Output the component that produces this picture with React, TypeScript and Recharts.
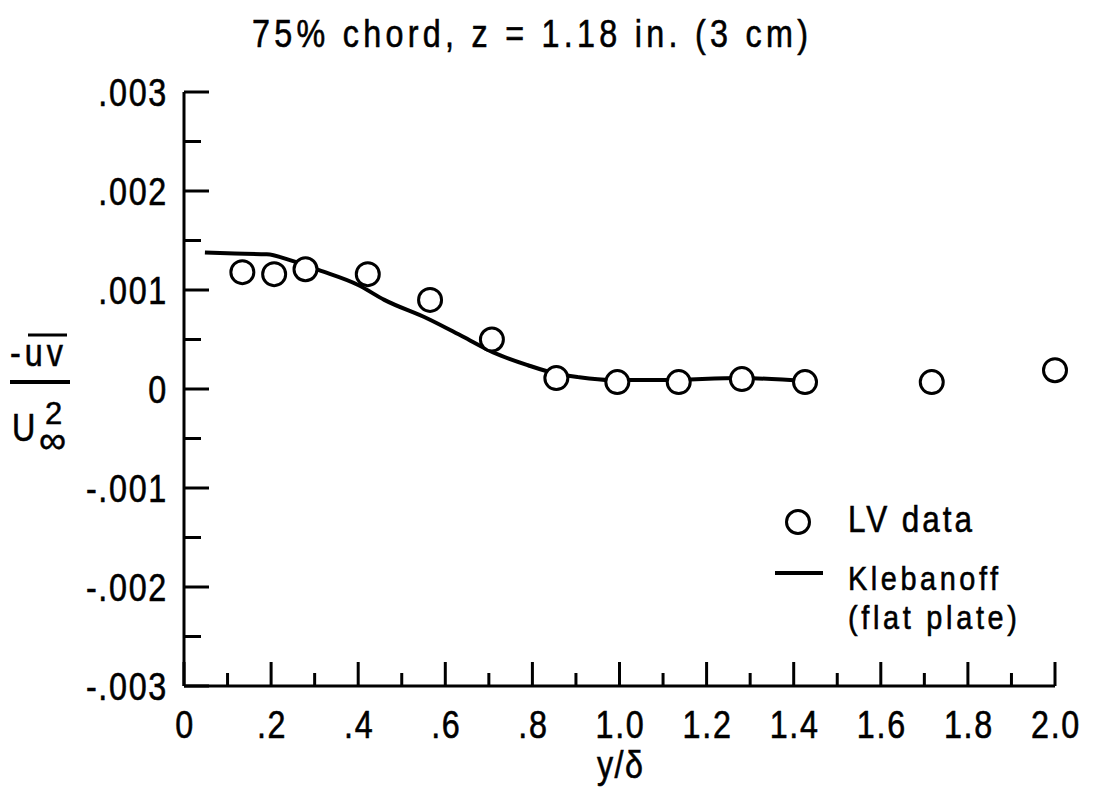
import {
  ComposedChart,
  Customized,
  Legend,
  Line,
  Scatter,
  XAxis,
  YAxis,
} from "recharts";

const FONT = "'Liberation Sans', Arial, 'DejaVu Sans', sans-serif";
// the original lettering is a tall condensed face, so text is squeezed horizontally
const SX = 0.85;

// LV data points
const lvX = [0.134, 0.207, 0.279, 0.422, 0.565, 0.707, 0.855, 0.995, 1.136, 1.281, 1.426, 1.717, 2.0];
const lvY = [0.00118, 0.00116, 0.00121, 0.00116, 0.0009, 0.0005, 0.00011, 0.00007, 0.00007, 0.0001, 0.00007, 0.00007, 0.00019];

// Klebanoff (flat plate) curve
const klX = [0.048, 0.1, 0.19, 0.245, 0.31, 0.4, 0.46, 0.56, 0.64, 0.71, 0.79, 0.85, 0.905, 0.98, 1.1, 1.28, 1.43];
const klY = [0.00138, 0.00137, 0.00136, 0.0013, 0.0012, 0.00105, 0.0009, 0.00071, 0.00053, 0.00037, 0.00024, 0.00016, 0.00012, 0.00009, 0.00009, 0.00011, 0.00008];

const xMajorTicks = [0, 0.2, 0.4, 0.6, 0.8, 1.0, 1.2, 1.4, 1.6, 1.8, 2.0];
const xMajorLabels = ["0", ".2", ".4", ".6", ".8", "1.0", "1.2", "1.4", "1.6", "1.8", "2.0"];
const xMinorTicks = [0.1, 0.3, 0.5, 0.7, 0.9, 1.1, 1.3, 1.5, 1.7, 1.9];

const yMajorTicks = [-0.003, -0.002, -0.001, 0, 0.001, 0.002, 0.003];
const yMajorLabels = ["-.003", "-.002", "-.001", "0", ".001", ".002", ".003"];
const yMinorTicks = [-0.0025, -0.0015, -0.0005, 0.0005, 0.0015, 0.0025];

const lvData = lvX.map((x, i) => ({ x, y: lvY[i] }));
const klData = klX.map((x, i) => ({ x, y: klY[i] }));

const xTicks = [...xMajorTicks, ...xMinorTicks].sort((a, b) => a - b);
const yTicks = [...yMajorTicks, ...yMinorTicks].sort((a, b) => a - b);

function findLabel(ticks: number[], labels: string[], v: number, eps: number) {
  const i = ticks.findIndex((t) => Math.abs(t - v) < eps);
  return i >= 0 ? labels[i] : null;
}

// narrow, slightly heavier text helper
const NT = ({ x, y, size = 38, anchor = "start", width, spacing = 0, children }: any) => (
  <text
    transform={`translate(${x},${y}) scale(${SX},1)`}
    x={0}
    y={0}
    fontSize={size}
    fontFamily={FONT}
    textAnchor={anchor}
    letterSpacing={spacing}
    textLength={width ? width / SX : undefined}
    lengthAdjust={width ? "spacing" : undefined}
    fill="#000"
    stroke="#000"
    strokeWidth={0.6}
  >
    {children}
  </text>
);

const XTick = (props: any) => {
  const { x, y, payload } = props;
  const label = findLabel(xMajorTicks, xMajorLabels, payload.value, 1e-6);
  return (
    <g>
      <line x1={x} x2={x} y1={y} y2={y - (label ? 24 : 13)} stroke="#000" strokeWidth={3} />
      {label && (
        <NT x={x + 1} y={y + 52} anchor="middle" spacing={2}>
          {label}
        </NT>
      )}
    </g>
  );
};

const YTick = (props: any) => {
  const { x, y, payload } = props;
  const label = findLabel(yMajorTicks, yMajorLabels, payload.value, 1e-8);
  return (
    <g>
      <line x1={x} x2={x + (label ? 25 : 17)} y1={y} y2={y} stroke="#000" strokeWidth={3} />
      {label && (
        <NT x={x - 16} y={y + 14} anchor="end" spacing={2}>
          {label}
        </NT>
      )}
    </g>
  );
};

const Ring = (props: any) => (
  <circle cx={props.cx} cy={props.cy} r={11.5} fill="#fff" stroke="#000" strokeWidth={3} />
);

const Annotations = () => (
  <g>
    <NT x={530} y={47} anchor="middle" width={556}>
      75% chord,  z = 1.18 in.  (3 cm)
    </NT>
    <NT x={620} y={778} anchor="middle" width={46}>
      y/δ
    </NT>
    {/* y axis label: -uv (overbar) over U∞² */}
    <NT x={10} y={366} width={53}>-uv</NT>
    <line x1={28} x2={67} y1={335} y2={335} stroke="#000" strokeWidth={3} />
    <line x1={10} x2={70} y1={382} y2={382} stroke="#000" strokeWidth={4} />
    <NT x={12} y={441}>U</NT>
    <text fontFamily={FONT} fill="#000" stroke="#000" strokeWidth={0.5}>
      <tspan x={45} y={424} fontSize={31}>2</tspan>
      <tspan x={39} y={453} fontSize={38}>∞</tspan>
    </text>
  </g>
);

const LegendBox = () => (
  <svg width={320} height={160} style={{ overflow: "visible" }}>
    <circle cx={38} cy={32} r={11.5} fill="#fff" stroke="#000" strokeWidth={3} />
    <NT x={88} y={42} size={37} width={124}>LV data</NT>
    <line x1={15} x2={63} y1={83} y2={83} stroke="#000" strokeWidth={4} />
    <NT x={88} y={100} size={34} width={150}>Klebanoff</NT>
    <NT x={88} y={139} size={34} width={169}>(flat plate)</NT>
  </svg>
);

export default function App() {
  return (
    <div style={{ position: "absolute", left: 0, top: 0, background: "#fff" }}>
      <ComposedChart
        width={1101}
        height={794}
        margin={{ top: 92, right: 46, bottom: 0, left: 0 }}
      >
        <XAxis
          type="number"
          dataKey="x"
          domain={[0, 2]}
          ticks={xTicks}
          interval={0}
          height={108}
          tickSize={0}
          tickMargin={0}
          tickLine={false}
          tick={<XTick />}
          axisLine={{ stroke: "#000", strokeWidth: 3 }}
        />
        <YAxis
          type="number"
          dataKey="y"
          domain={[-0.003, 0.003]}
          ticks={yTicks}
          interval={0}
          width={184}
          tickSize={0}
          tickMargin={0}
          tickLine={false}
          tick={<YTick />}
          axisLine={{ stroke: "#000", strokeWidth: 3 }}
        />
        <Legend
          layout="vertical"
          align="center"
          verticalAlign="middle"
          content={() => <LegendBox />}
          wrapperStyle={{ left: 760, top: 490, width: 320, height: 160 }}
        />
        <Line
          data={klData}
          dataKey="y"
          type="monotone"
          stroke="#000"
          strokeWidth={4}
          dot={false}
          isAnimationActive={false}
          legendType="line"
          name="Klebanoff (flat plate)"
        />
        <Scatter
          data={lvData}
          dataKey="y"
          shape={<Ring />}
          isAnimationActive={false}
          name="LV data"
        />
        <Customized component={Annotations} />
      </ComposedChart>
    </div>
  );
}
